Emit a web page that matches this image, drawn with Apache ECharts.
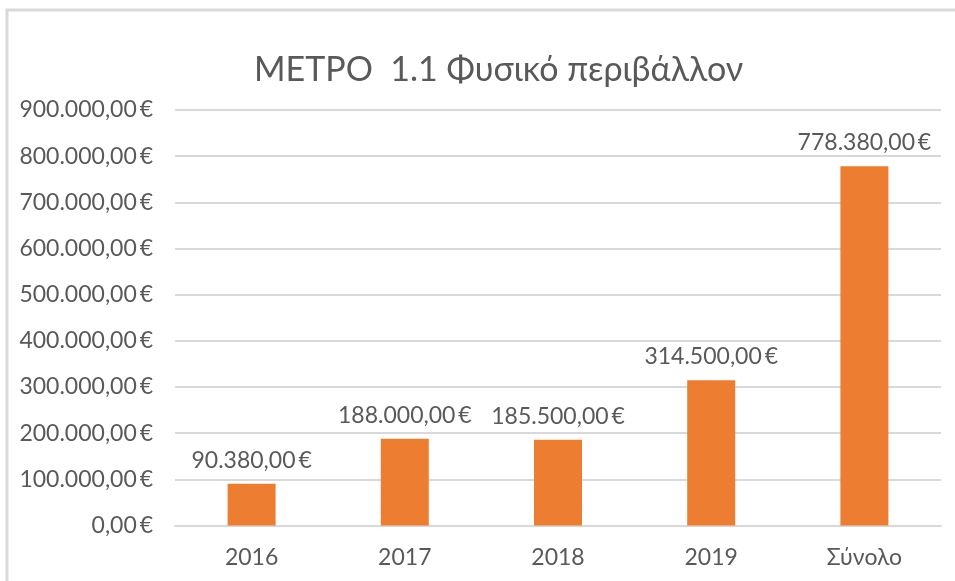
<!DOCTYPE html>
<html>
<head>
<meta charset="utf-8">
<script src="https://cdn.jsdelivr.net/npm/echarts@6/dist/echarts.min.js"></script>
<style>
  html, body { margin: 0; padding: 0; background: #fff; }
  #chart { width: 955px; height: 581px; }
</style>
</head>
<body>
<div id="chart"></div>
<script>
// data
const categories = ['2016', '2017', '2018', '2019', 'Σύνολο'];
const amounts = [90380, 188000, 185500, 314500, 778380];
const axisMax = 900000;
const axisStep = 100000;

const textColor = '#595959';
const fontFamily = 'Lato, "Open Sans", sans-serif';

// 900000 -> "900.000,00 €"
function euro(v) {
  const parts = Math.round(v).toString().replace(/\B(?=(\d{3})+(?!\d))/g, '.');
  return parts + ',00\u2009€';
}

const chart = echarts.init(document.getElementById('chart'));
chart.setOption({
  animation: false,
  backgroundColor: '#fff',
  title: {
    text: 'ΜΕΤΡΟ  1.1 Φυσικό περιβάλλον',
    left: 249,
    top: 48,
    textStyle: { color: textColor, fontFamily: fontFamily, fontSize: 34, fontWeight: 'normal' }
  },
  graphic: [{
    type: 'rect',
    shape: { x: 7, y: 10, width: 1000, height: 1000 },
    style: { fill: 'none', stroke: '#d9d9d9', lineWidth: 3 },
    silent: true
  }],
  grid: { left: 175, right: 14, top: 110, bottom: 55.5 },
  xAxis: {
    type: 'category',
    data: categories,
    axisLine: { show: true, lineStyle: { color: '#d9d9d9', width: 2 } },
    axisTick: { show: false },
    axisLabel: { color: textColor, fontFamily: fontFamily, fontSize: 23, margin: 21 }
  },
  yAxis: {
    type: 'value',
    min: 0,
    max: axisMax,
    interval: axisStep,
    axisLine: { show: false },
    axisTick: { show: false },
    splitLine: { lineStyle: { color: '#d9d9d9', width: 2 } },
    axisLabel: { color: textColor, fontFamily: fontFamily, fontSize: 23, margin: 22, formatter: euro }
  },
  series: [{
    type: 'bar',
    data: amounts,
    barWidth: 48,
    itemStyle: { color: '#ED7D31' },
    label: {
      show: true,
      position: 'top',
      distance: 12,
      color: textColor,
      fontFamily: fontFamily,
      fontSize: 23,
      formatter: p => euro(p.value)
    }
  }]
});
</script>
</body>
</html>
